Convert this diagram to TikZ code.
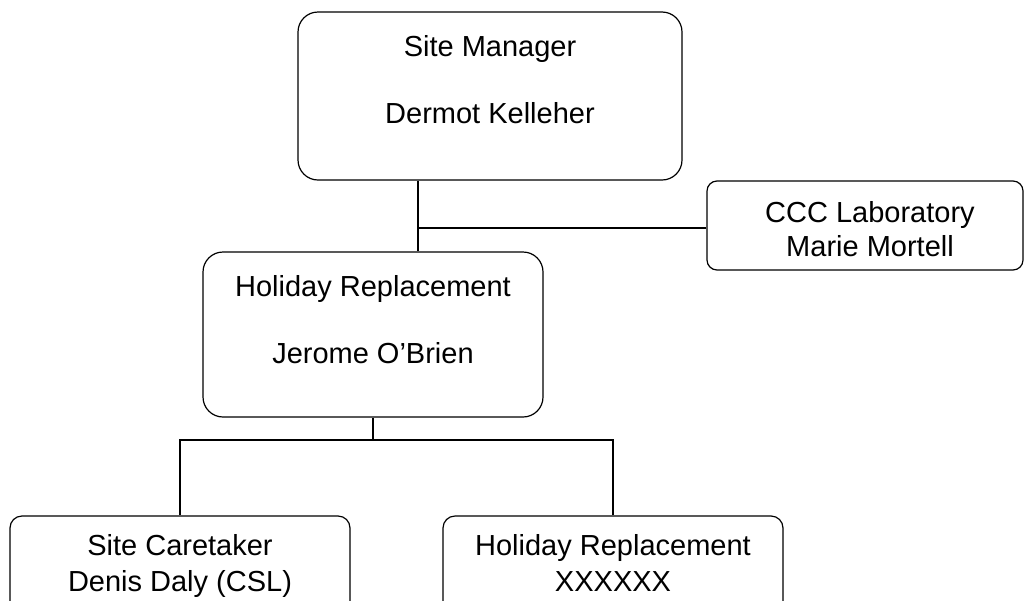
\documentclass[tikz,border=0pt]{standalone}
\usepackage{fontspec}
\setmainfont{Liberation Sans}
\begin{document}
\begin{tikzpicture}[x=1pt,y=-1pt,
  box/.style={draw=black, line width=1.2pt, fill=white, inner sep=0pt, rectangle},
  txt/.style={font=\fontsize{29}{33.4}\selectfont, anchor=base, inner sep=0pt},
  conn/.style={draw=black, line width=1.2pt}]
\useasboundingbox (0,0) rectangle (1035,600);
\clip (0,0) rectangle (1035,600);
% boxes
\node[box, minimum width=384pt, minimum height=168pt, rounded corners=20pt] (sm) at (490,96) {};
\node[box, minimum width=316pt, minimum height=89pt, rounded corners=10pt] (ccc) at (865,225.5) {};
\node[box, minimum width=340pt, minimum height=165pt, rounded corners=20pt] (jer) at (373,334.5) {};
\node[box, minimum width=340pt, minimum height=100pt, rounded corners=12pt] (care) at (180,566) {};
\node[box, minimum width=340pt, minimum height=100pt, rounded corners=12pt] (hr) at (613,566) {};
% texts
\node[txt] (sm1) at (490,56) {Site Manager};
\node[txt] (sm2) at (490,123) {Dermot Kelleher};
\node[txt] (ccc1) at (870,222) {CCC Laboratory};
\node[txt] (ccc2) at (870,256) {Marie Mortell};
\node[txt] (jer1) at (373,296) {Holiday Replacement};
\node[txt] (jer2) at (373,363) {Jerome O’Brien};
\node[txt] (care1) at (180,555) {Site Caretaker};
\node[txt] (care2) at (180,591) {Denis Daly (CSL)};
\node[txt] (hr1) at (613,555) {Holiday Replacement};
\node[txt] (hr2) at (613,591) {XXXXXX};
% connectors
\coordinate (j1) at (418,228);
\coordinate (j2) at (373,440);
\draw[conn] (j1 |- sm.south) -- (j1 |- jer.north);
\draw[conn] (j1) -- (j1 -| ccc.west);
\draw[conn] (jer.south) -- (j2);
\draw[conn] (care.north) |- (j2) -| (hr.north);
\end{tikzpicture}
\end{document}
